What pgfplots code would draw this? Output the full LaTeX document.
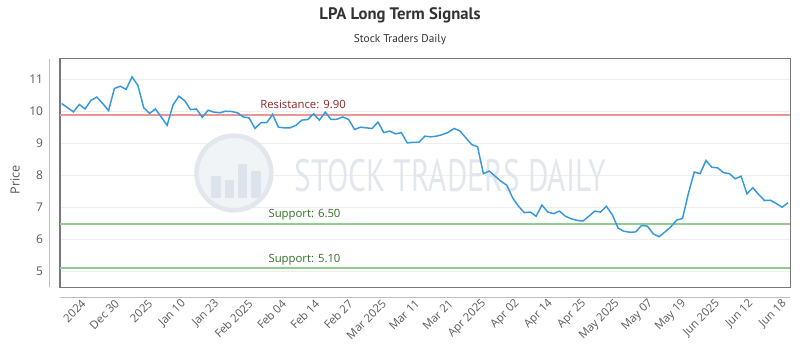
\documentclass[border=0pt]{standalone}
\usepackage{fontspec}
\setmainfont{Open Sans}
\newfontfamily\titlefont{PT Sans}
\usepackage{pgfplots}
\usepackage{pgfplotstable}
\pgfplotsset{compat=1.18}
\definecolor{linec}{RGB}{52,152,222}
\definecolor{resline}{RGB}{236,150,150}
\definecolor{restext}{RGB}{140,40,40}
\definecolor{supline}{RGB}{145,205,145}
\definecolor{suptext}{RGB}{50,110,40}
\definecolor{gridc}{RGB}{238,238,238}
\definecolor{framec}{RGB}{120,120,120}
\definecolor{tickc}{RGB}{90,90,90}
\definecolor{wm}{RGB}{226,231,237}
\definecolor{wmfill}{RGB}{241,244,247}
\definecolor{wmbar}{RGB}{221,227,234}
\definecolor{titlec}{RGB}{51,51,51}

\pgfplotstableread{
i v
0 10.25
1 10.12
2 9.99
3 10.22
4 10.08
5 10.35
6 10.45
7 10.25
8 10.03
9 10.72
10 10.79
11 10.69
12 11.08
13 10.82
14 10.12
15 9.94
16 10.08
17 9.83
18 9.57
19 10.20
20 10.48
21 10.34
22 10.06
23 10.08
24 9.82
25 10.04
26 9.98
27 9.96
28 10.01
29 10.00
30 9.96
31 9.83
32 9.80
33 9.47
34 9.65
35 9.65
36 9.91
37 9.51
38 9.49
39 9.49
40 9.57
41 9.73
42 9.75
43 9.93
44 9.73
45 9.98
46 9.75
47 9.76
48 9.83
49 9.75
50 9.44
51 9.51
52 9.49
53 9.47
54 9.67
55 9.34
56 9.39
57 9.30
58 9.34
59 9.02
60 9.04
61 9.04
62 9.23
63 9.21
64 9.23
65 9.28
66 9.35
67 9.47
68 9.39
69 9.18
70 8.97
71 8.90
72 8.06
73 8.14
74 7.98
75 7.82
76 7.70
77 7.30
78 7.04
79 6.84
80 6.86
81 6.73
82 7.08
83 6.86
84 6.81
85 6.89
86 6.73
87 6.65
88 6.60
89 6.58
90 6.73
91 6.89
92 6.86
93 7.04
94 6.78
95 6.36
96 6.26
97 6.23
98 6.24
99 6.44
100 6.42
101 6.18
102 6.09
103 6.24
104 6.40
105 6.61
106 6.66
107 7.44
108 8.11
109 8.06
110 8.47
111 8.26
112 8.24
113 8.09
114 8.06
115 7.90
116 7.98
117 7.43
118 7.62
119 7.41
120 7.22
121 7.23
122 7.13
123 7.01
124 7.15
}\pricedata

\begin{document}
\begin{tikzpicture}[x=1pt,y=1pt]
\useasboundingbox (-45,-47.25) rectangle (555,215.25);
\begin{axis}[
  at={(0,0)}, anchor=south west,
  scale only axis, width=547.5pt, height=171pt,
  xmin=-0.29, xmax=124.35, ymin=4.52, ymax=11.64,
  axis line style={framec, line width=0.75pt},
  ytick={5,6,7,8,9,10,11},
  ymajorgrids, grid style={gridc, line width=0.6pt},
  xtick={3.77,9.47,15.17,20.87,26.57,32.27,37.96,43.66,49.36,55.06,60.76,66.46,72.16,77.86,83.56,89.26,94.95,100.65,106.35,112.05,117.75,123.45},
  xticklabels={2024,Dec 30,2025,Jan 10,Jan 23,Feb 2025,Feb 04,Feb 14,Feb 27,Mar 2025,Mar 11,Mar 21,Apr 2025,Apr 02,Apr 14,Apr 25,May 2025,May 07,May 19,Jun 2025,Jun 12,Jun 18},
  major tick length=0pt,
  /pgf/number format/assume math mode=true,
  xticklabel style={yshift=-11pt, rotate=45, anchor=east, inner sep=0pt, font=\fontsize{8.5}{10}\selectfont, text=tickc},
  yticklabel style={anchor=east, inner sep=0pt, xshift=-12.5pt, font=\fontsize{9}{10}\selectfont, text=tickc},
]
% watermark
\fill[wmfill] (axis cs:29.4,8.08) circle[radius=28pt];
\begin{scope}
\clip (axis cs:29.4,8.08) circle[radius=27pt];
\fill[wmbar] ([xshift=-17pt]axis cs:29.4,7.3) rectangle ([xshift=-10pt]axis cs:29.4,8.0);
\fill[wmbar] ([xshift=-7pt]axis cs:29.4,7.3) rectangle ([xshift=0pt]axis cs:29.4,7.85);
\fill[wmbar] ([xshift=3pt]axis cs:29.4,7.3) rectangle ([xshift=10pt]axis cs:29.4,8.35);
\fill[wmbar] ([xshift=13pt]axis cs:29.4,7.3) rectangle ([xshift=20pt]axis cs:29.4,8.15);
\end{scope}
\draw[wm, line width=3.5pt] (axis cs:29.4,8.08) circle[radius=28pt];
\node[text=wm, font=\titlefont\fontsize{34}{34}\selectfont, xscale=0.69] at (axis cs:66.3,7.99) {STOCK TRADERS DAILY};

\addplot[resline, line width=1.3pt] coordinates {(-0.29,9.9) (124.35,9.9)};
\addplot[supline, line width=1.4pt] coordinates {(-0.29,6.5) (124.35,6.5)};
\addplot[supline, line width=1.4pt] coordinates {(-0.29,5.1) (124.35,5.1)};
\addplot[linec, line width=1.1pt, mark=none] table[x=i, y=v] {\pricedata};

\node[anchor=base west, inner sep=0pt, yshift=4.3pt, text=restext, font=\fontsize{8.5}{10}\selectfont] at (axis cs:33.86,9.9) {Resistance: 9.90};
\node[anchor=base west, inner sep=0pt, yshift=4.5pt, text=suptext, font=\fontsize{8.5}{10}\selectfont] at (axis cs:35.27,6.5) {Support: 6.50};
\node[anchor=base west, inner sep=0pt, yshift=4.5pt, text=suptext, font=\fontsize{8.5}{10}\selectfont] at (axis cs:35.27,5.1) {Support: 5.10};
\end{axis}
\draw[black!25, line width=0.75pt] (-7.5,0) -- (-7.5,171);
\draw[black!25, line width=0.75pt] (0,-7.5) -- (547.5,-7.5);
\node[font=\titlefont\bfseries\fontsize{12.5}{14}\selectfont, text=titlec] at (255,204) {LPA Long Term Signals};
\node[font=\titlefont\fontsize{8.5}{10}\selectfont, text=titlec] at (255,185.25) {Stock Traders Daily};
\node[rotate=90, font=\fontsize{9.5}{11}\selectfont, text=tickc] at (-33.75,80.25) {Price};
\end{tikzpicture}
\end{document}
